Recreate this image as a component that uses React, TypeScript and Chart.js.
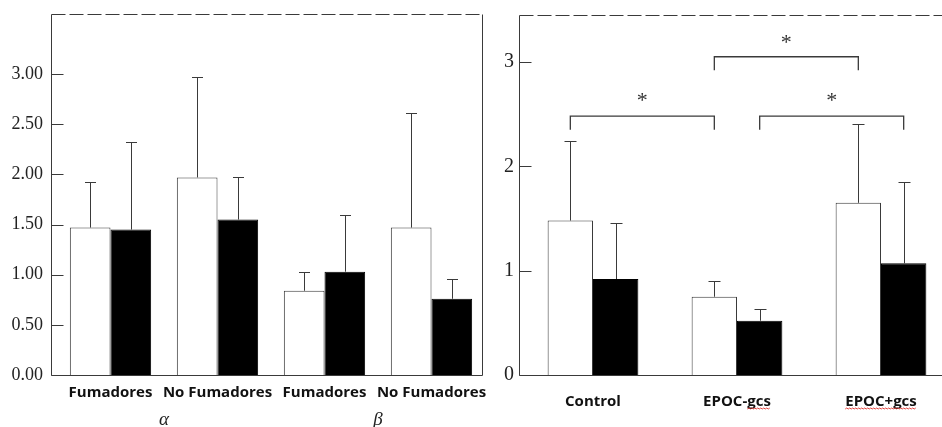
import React, { useEffect, useRef } from 'react';
import { Chart, registerables } from 'chart.js';

Chart.register(...registerables);

// ---------- Left panel data ----------
const leftCategories = ['Fumadores', 'No Fumadores', 'Fumadores', 'No Fumadores'];
const leftGroups = [
  { label: 'α', from: 0, to: 1 },
  { label: 'β', from: 2, to: 3 },
];
const leftTicks = [0, 0.5, 1, 1.5, 2, 2.5, 3];
const leftWhite = [1.47, 1.97, 0.84, 1.47];
const leftWhiteErr = [1.92, 2.97, 1.03, 2.61];
const leftBlack = [1.45, 1.55, 1.03, 0.76];
const leftBlackErr = [2.32, 1.97, 1.6, 0.96];

// ---------- Right panel data ----------
const rightCategories = ['Control', 'EPOC-gcs', 'EPOC+gcs'];
const rightTicks = [0, 1, 2, 3];
const rightWhite = [1.48, 0.75, 1.65];
const rightWhiteErr = [2.24, 0.9, 2.41];
const rightBlack = [0.92, 0.52, 1.07];
const rightBlackErr = [1.46, 0.63, 1.85];
const rightBrackets = [
  { fromCat: 0, fromSeries: 0, toCat: 1, toSeries: 0, y: 2.48, leg: 2.35, star: 2.67 },
  { fromCat: 1, fromSeries: 0, toCat: 2, toSeries: 0, y: 3.05, leg: 2.92, star: 3.23 },
  { fromCat: 1, fromSeries: 1, toCat: 2, toSeries: 1, y: 2.48, leg: 2.35, star: 2.67 },
];
// spell-check style underline seen under parts of the labels
const rightUnderlined = [
  { cat: 1, prefix: 'EPOC-', text: 'gcs' },
  { cat: 2, prefix: '', text: 'EPOC+gcs' },
];

const SERIF = '"Liberation Serif", "DejaVu Serif", serif';
const SANS = '"Open Sans", "Noto Sans", sans-serif';
const XFONT = { family: SANS, weight: 'bold', size: 15 };
const LINE = '#3a3a3a';

const framePlugin = {
  id: 'frame',
  afterDraw(chart: any, _args: any, opts: any) {
    const { ctx, chartArea: a, scales } = chart;
    const L = Math.round(a.left - opts.leftInset) + 0.5;
    const R = Math.round(a.right - opts.rightInset) - 0.5;
    const T = Math.round(a.top) + 0.5;
    const B = Math.round(a.bottom) + 0.5;
    ctx.save();
    ctx.strokeStyle = LINE;
    ctx.lineWidth = 1;
    ctx.beginPath();
    ctx.moveTo(L, T);
    ctx.lineTo(L, B);
    ctx.stroke();
    ctx.beginPath();
    ctx.moveTo(L, B);
    ctx.lineTo(R, B);
    ctx.stroke();
    if (opts.right) {
      ctx.beginPath();
      ctx.moveTo(R, T);
      ctx.lineTo(R, B);
      ctx.stroke();
    }
    ctx.setLineDash([14, 4]);
    ctx.beginPath();
    ctx.moveTo(L, T);
    ctx.lineTo(R, T);
    ctx.stroke();
    ctx.setLineDash([]);
    const ys = scales.y;
    ys.ticks.forEach((t: any) => {
      const y = Math.round(ys.getPixelForValue(t.value)) + 0.5;
      ctx.beginPath();
      ctx.moveTo(L, y);
      ctx.lineTo(L + opts.tick, y);
      ctx.stroke();
    });
    ctx.restore();
  },
};

const errorPlugin = {
  id: 'errbars',
  afterDatasetsDraw(chart: any, _args: any, opts: any) {
    const { ctx } = chart;
    const ys = chart.scales.y;
    ctx.save();
    ctx.strokeStyle = LINE;
    ctx.lineWidth = 1;
    chart.data.datasets.forEach((ds: any, i: number) => {
      const meta = chart.getDatasetMeta(i);
      const errs = ds.errTop || [];
      meta.data.forEach((bar: any, j: number) => {
        if (errs[j] == null) return;
        const x = Math.round(bar.x) + 0.5;
        const top = bar.y;
        const e = Math.round(ys.getPixelForValue(errs[j])) + 0.5;
        ctx.beginPath();
        ctx.moveTo(x, top);
        ctx.lineTo(x, e);
        ctx.moveTo(x - opts.cap, e);
        ctx.lineTo(x + opts.cap, e);
        ctx.stroke();
      });
    });
    ctx.restore();
  },
};

const groupPlugin = {
  id: 'groups',
  afterDraw(chart: any, _args: any, opts: any) {
    if (!opts.groups) return;
    const { ctx, chartArea: a } = chart;
    const xs = chart.scales.x;
    ctx.save();
    ctx.fillStyle = '#222';
    ctx.font = `italic 19px ${SERIF}`;
    ctx.textAlign = 'center';
    ctx.textBaseline = 'middle';
    opts.groups.forEach((g: any) => {
      const x = (xs.getPixelForValue(g.from) + xs.getPixelForValue(g.to)) / 2;
      ctx.fillText(g.label, x, a.bottom + opts.offset);
    });
    ctx.restore();
  },
};

const bracketPlugin = {
  id: 'brackets',
  afterDraw(chart: any, _args: any, opts: any) {
    if (!opts.items) return;
    const { ctx } = chart;
    const ys = chart.scales.y;
    ctx.save();
    ctx.strokeStyle = LINE;
    ctx.lineWidth = 1.3;
    ctx.fillStyle = '#333';
    ctx.font = `22px ${SERIF}`;
    ctx.textAlign = 'center';
    ctx.textBaseline = 'middle';
    opts.items.forEach((b: any) => {
      const x1 = chart.getDatasetMeta(b.fromSeries).data[b.fromCat].x;
      const x2 = chart.getDatasetMeta(b.toSeries).data[b.toCat].x;
      const y = ys.getPixelForValue(b.y);
      const yl = ys.getPixelForValue(b.leg);
      ctx.beginPath();
      ctx.moveTo(x1, yl);
      ctx.lineTo(x1, y);
      ctx.lineTo(x2, y);
      ctx.lineTo(x2, yl);
      ctx.stroke();
      ctx.fillText('*', (x1 + x2) / 2, ys.getPixelForValue(b.star) + 5);
    });
    ctx.restore();
  },
};

const squigglePlugin = {
  id: 'squiggle',
  afterDraw(chart: any, _args: any, opts: any) {
    if (!opts.items) return;
    const { ctx, chartArea: a } = chart;
    const xs = chart.scales.x;
    ctx.save();
    ctx.font = `bold ${XFONT.size}px ${SANS}`;
    ctx.strokeStyle = '#e0302a';
    ctx.lineWidth = 0.9;
    opts.items.forEach((u: any) => {
      const label = chart.data.labels[u.cat];
      const full = ctx.measureText(label).width;
      const cx = xs.getPixelForValue(u.cat);
      const x0 = cx - full / 2 + ctx.measureText(u.prefix).width;
      const x1 = x0 + ctx.measureText(u.text).width;
      const y = a.bottom + opts.offset;
      ctx.beginPath();
      let up = true;
      ctx.moveTo(x0, y);
      for (let x = x0 + 1.5; x <= x1; x += 1.5) {
        ctx.lineTo(x, up ? y - 1 : y);
        up = !up;
      }
      ctx.stroke();
    });
    ctx.restore();
  },
};

function buildConfig(p: any) {
  return {
    type: 'bar',
    data: {
      labels: p.categories,
      datasets: [
        {
          data: p.white,
          errTop: p.whiteErr,
          backgroundColor: '#ffffff',
          borderColor: LINE,
          borderWidth: 1,
        },
        {
          data: p.black,
          errTop: p.blackErr,
          backgroundColor: '#000000',
          borderColor: '#000000',
          borderWidth: 1,
        },
      ],
    },
    plugins: [framePlugin, errorPlugin, groupPlugin, bracketPlugin, squigglePlugin],
    options: {
      responsive: false,
      animation: false,
      devicePixelRatio: 1,
      layout: { padding: { top: p.padTop, right: p.padRight, left: 0, bottom: 0 } },
      datasets: {
        bar: { categoryPercentage: p.catPct, barPercentage: 1 },
      },
      plugins: {
        legend: { display: false },
        tooltip: { enabled: false },
        frame: { right: p.rightBorder, tick: p.tickLen, leftInset: p.leftInset, rightInset: p.rightInset },
        errbars: { cap: p.cap },
        groups: { groups: p.groups, offset: 45 },
        brackets: { items: p.brackets },
        squiggle: { items: p.underlined, offset: 34 },
      },
      scales: {
        x: {
          type: 'category',
          grid: { display: false, drawTicks: false },
          border: { display: false },
          ticks: {
            font: XFONT,
            color: '#111',
            padding: p.xPad,
            maxRotation: 0,
            autoSkip: false,
          },
          afterFit: (s: any) => {
            s.height = 52;
            s.paddingLeft = 0;
            s.paddingRight = 0;
          },
        },
        y: {
          type: 'linear',
          min: 0,
          max: p.yMax,
          grid: { display: false, drawTicks: false },
          border: { display: false },
          afterBuildTicks: (s: any) => {
            s.ticks = p.ticks.map((v: number) => ({ value: v }));
          },
          afterFit: (s: any) => {
            s.width = p.yWidth;
            s.paddingTop = 0;
            s.paddingBottom = 0;
          },
          ticks: {
            callback: p.fmt,
            font: { family: SERIF, size: p.yFont },
            color: '#222',
            padding: p.yPad,
          },
        },
      },
    },
  };
}

export default function App() {
  const leftRef = useRef<HTMLCanvasElement>(null);
  const rightRef = useRef<HTMLCanvasElement>(null);

  useEffect(() => {
    const left = new Chart(
      leftRef.current as HTMLCanvasElement,
      buildConfig({
        categories: leftCategories,
        white: leftWhite,
        whiteErr: leftWhiteErr,
        black: leftBlack,
        blackErr: leftBlackErr,
        ticks: leftTicks,
        yMax: 3.6,
        fmt: (v: any) => Number(v).toFixed(2),
        yFont: 18,
        yWidth: 57,
        yPad: 14,
        padTop: 14,
        padRight: 15,
        catPct: 0.76,
        rightBorder: true,
        leftInset: 6,
        rightInset: 2,
        tickLen: 12,
        cap: 5.5,
        xPad: 9,
        groups: leftGroups,
        brackets: null,
        underlined: null,
      }) as any
    );
    const right = new Chart(
      rightRef.current as HTMLCanvasElement,
      buildConfig({
        categories: rightCategories,
        white: rightWhite,
        whiteErr: rightWhiteErr,
        black: rightBlack,
        blackErr: rightBlackErr,
        ticks: rightTicks,
        yMax: 3.45,
        fmt: (v: any) => String(v),
        yFont: 20,
        yWidth: 61,
        yPad: 7,
        padTop: 15,
        padRight: 7,
        catPct: 0.63,
        rightBorder: false,
        leftInset: 2,
        rightInset: 0,
        tickLen: 12,
        cap: 6,
        xPad: 18,
        groups: null,
        brackets: rightBrackets,
        underlined: rightUnderlined,
      }) as any
    );
    return () => {
      left.destroy();
      right.destroy();
    };
  }, []);

  return (
    <div
      style={{
        position: 'absolute',
        left: 0,
        top: 0,
        width: 942,
        height: 427,
        overflow: 'hidden',
        background: '#ffffff',
      }}
    >
      <canvas
        ref={leftRef}
        width={500}
        height={427}
        style={{ position: 'absolute', left: 0, top: 0, width: 500, height: 427 }}
      />
      <canvas
        ref={rightRef}
        width={500}
        height={427}
        style={{ position: 'absolute', left: 460, top: 0, width: 500, height: 427 }}
      />
    </div>
  );
}
